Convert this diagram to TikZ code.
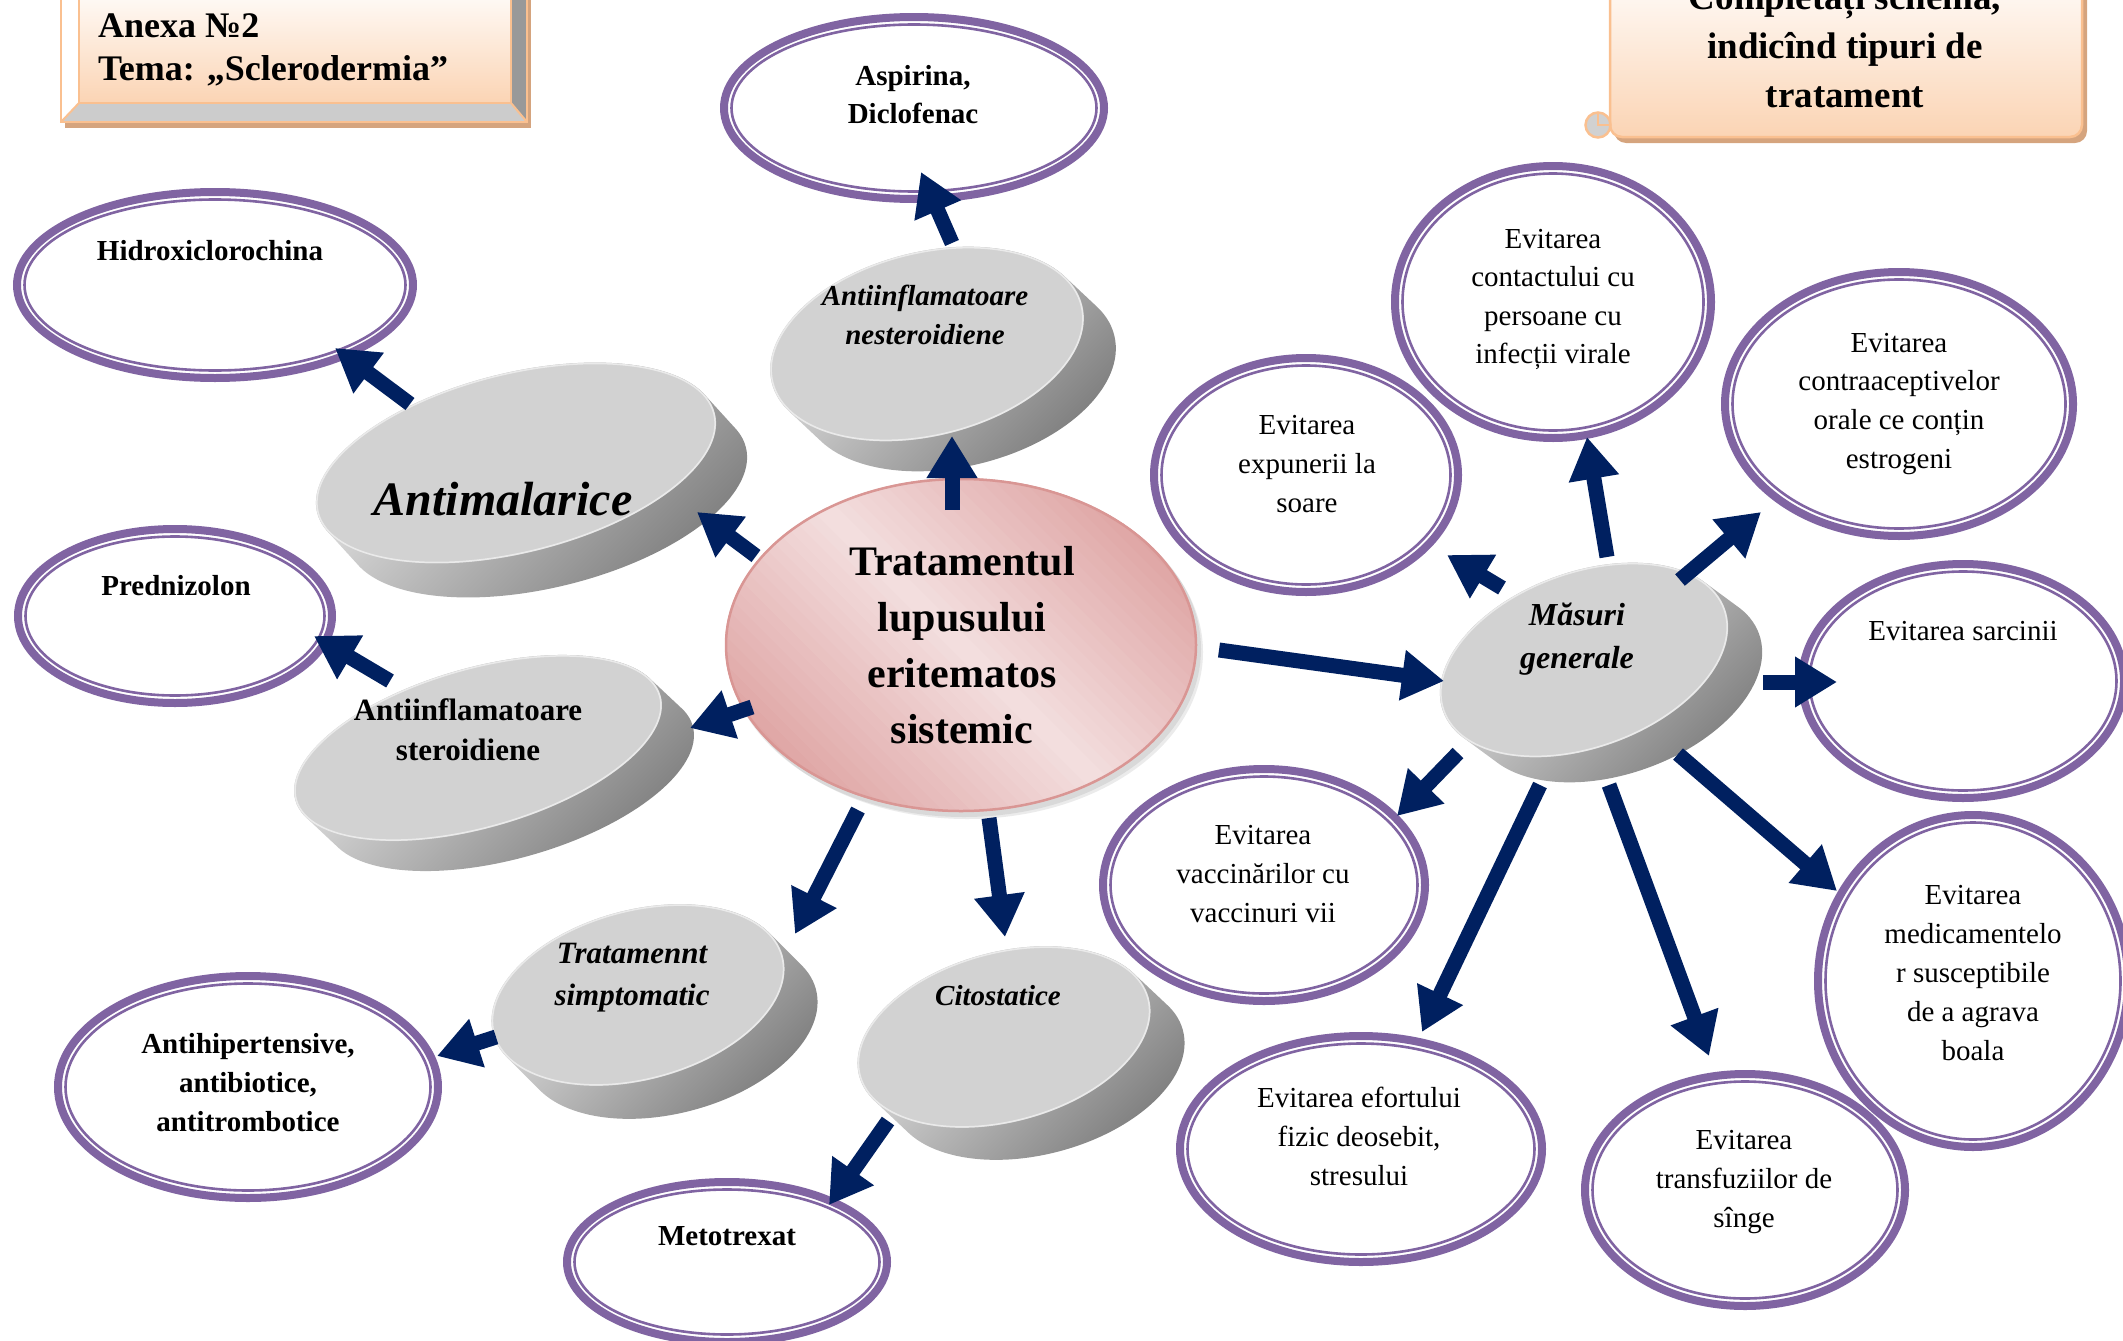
\documentclass[tikz,border=0pt]{standalone}
\usepackage{fontspec}
\setmainfont{Liberation Serif}
\usetikzlibrary{arrows.meta,calc}

\definecolor{navy}{HTML}{002060}
\definecolor{lilac}{HTML}{8064A2}
\definecolor{peach}{HTML}{FAC090}
\definecolor{peachface}{HTML}{FBD4B4}
\definecolor{tanshadow}{HTML}{D5A47E}
\definecolor{rosedark}{HTML}{DFA5A4}
\definecolor{roselight}{HTML}{F3DFDF}
\definecolor{roseline}{HTML}{D99694}
\definecolor{disktop}{HTML}{D2D2D2}

\newcommand\fs[2]{\fontsize{#1}{#2}\selectfont}

% white oval with a thick and a thin lilac rim
\newcommand\ringoval[5]{%
  \coordinate (#1) at (#2,-#3);
  \fill[white] (#1) ellipse [x radius=#4, y radius=#5];
  \draw[lilac, line width=8pt] (#1) ellipse [x radius=#4-4, y radius=#5-4];
  \draw[lilac, line width=2.6pt] (#1) ellipse [x radius=#4-11.5, y radius=#5-11.5];
}

% grey tablet: name, centre x, centre y (downwards), tilt, half axes, depth offset
\newcommand\pilldisk[8]{%
  \coordinate (#1) at (#2,-#3);
  \pgfmathsetmacro\pdlx{#7*cos(#4)-#8*sin(#4)}%
  \pgfmathsetmacro\pdly{-#7*sin(#4)-#8*cos(#4)}%
  \begin{scope}[shift={(#2,-#3)}, rotate=#4]
    \shade[disk side] (0,0) ellipse [x radius=#5, y radius=#6]
      \foreach \k in {1,...,28}{ ({\k/28*\pdlx}, {\k/28*\pdly}) ellipse [x radius=#5, y radius=#6] };
    \fill[disktop] (0,0) ellipse [x radius=#5, y radius=#6];
    \draw[white, opacity=.55, line width=1.5pt] (0,0) ellipse [x radius=#5-1, y radius=#6-1];
  \end{scope}
}

\begin{document}
\begin{tikzpicture}[x=1pt, y=1pt,
  lab/.style={inner sep=0pt, align=center},
  arrowstroke/.style={draw=navy, line width=15pt, -{Triangle[width=48pt,length=42pt]}},
  disk side/.style={top color=black!6, middle color=black!25, bottom color=black!52, shading angle=45},
]
\useasboundingbox (0,0) rectangle (2123,-1341);
\clip (0,0) rectangle (2123,-1341);

% ---------- lilac ovals ----------
\ringoval{asp}{914}{108}{194}{95}
\ringoval{hidro}{215}{285}{202}{97}
\ringoval{pred}{175}{616}{161}{91}
\ringoval{antih}{248}{1087}{194}{115}
\ringoval{meto}{727}{1262}{164}{84}
\ringoval{expun}{1306}{475}{156}{121}
\ringoval{contact}{1553}{302}{162}{140}
\ringoval{contra}{1899}{404}{178}{136}
\ringoval{sarc}{1963}{681}{165}{121}
\ringoval{medic}{1973}{981}{159}{170}
\ringoval{transf}{1745}{1190}{164}{120}
\ringoval{efort}{1361}{1149}{185}{117}
\ringoval{vacc}{1264}{885}{165}{120}

% ---------- grey tablets ----------
\pilldisk{antimal}{516}{463}{14}{205}{90}{31}{34}
\pilldisk{nest}{927}{344}{14}{160}{92}{32}{30}
\pilldisk{steroid}{478}{748}{16}{190}{80}{32}{30}
\pilldisk{simpt}{638}{995}{15}{150}{85}{33}{33}
\pilldisk{cito}{1004}{1037}{15}{150}{85}{34}{32}
\pilldisk{masuri}{1584}{660}{20}{150}{88}{34}{25}

% ---------- central oval ----------
\coordinate (core) at (961,-645);
\fill[black, opacity=.08] ($(core)+(6,-7)$) ellipse [x radius=236, y radius=167];
\fill[black, opacity=.08] ($(core)+(3,-4)$) ellipse [x radius=237, y radius=168];
\begin{scope}
  \clip (core) ellipse [x radius=236, y radius=167];
  % diagonal band: light through the middle, darker towards top right and bottom left
  \foreach \i in {-22,...,21}{
    \pgfmathtruncatemacro\mixv{min(100, abs(\i+0.5)*10/2.05)}
    \fill[rosedark!\mixv!roselight, rotate around={-45:(core)}]
      ($(core)+(-320,\i*10)$) rectangle ($(core)+(320,\i*10+10.8)$);
  }
\end{scope}
\draw[roseline, line width=2.5pt] (core) ellipse [x radius=235, y radius=166];

% ---------- bevelled title plate ----------
\fill[tanshadow] (65,20) rectangle (531,-128);
\fill[white] (61,20) -- (79,20) -- (79,-103) -- (61,-122) -- cycle;
\fill[gray!40] (61,-122) -- (79,-103) -- (511,-103) -- (527,-122) -- cycle;
\fill[gray!80] (527,-122) -- (511,-103) -- (511,20) -- (527,20) -- cycle;
\shade[top color=white, bottom color=peachface] (79,20) rectangle (511,-103);
\draw[peach, line width=2pt] (61,20) -- (61,-122) -- (527,-122) -- (527,20);
\draw[peach, line width=2pt] (79,20) -- (79,-103) -- (511,-103) -- (511,20);
\draw[peach, line width=2pt] (61,-122) -- (79,-103) (527,-122) -- (511,-103);

% ---------- scroll ----------
\fill[tanshadow, rounded corners=12pt] (1614,40) -- (1614,-143) -- (2087,-143) -- (2087,40) -- cycle;
\shadedraw[top color=white, bottom color=peachface, draw=peach, line width=2.5pt, rounded corners=12pt]
  (1610,40) -- (1610,-137) -- (2082,-137) -- (2082,40);
\filldraw[fill=black!18, draw=peach, line width=2.5pt] (1598,-125) circle (12.5);
\draw[peach, line width=2pt] (1598,-114) -- (1598,-125) -- (1610,-125);

% ---------- texts ----------
\node[lab, align=left, anchor=north west, font=\bfseries\fs{36}{43}] (annex) at (98,-6.9)
  {\strut Anexa №2\\Tema: „Sclerodermia”};
\node[lab, anchor=north, font=\bfseries\fs{37}{49}] (task) at (1845,25.3)
  {\strut Completați schema,\\indicînd tipuri de\\tratament};
\node[lab, anchor=north, font=\bfseries\fs{42}{56}] (coretext) at (962,-535.8)
  {\strut Tratamentul\\lupusului\\eritematos\\sistemic};

\node[lab, anchor=base, font=\bfseries\itshape\fs{48}{58}] (antimaltext) at (503,-515) {Antimalarice};
\node[lab, anchor=north, font=\bfseries\itshape\fs{29}{39}] (nesttext) at (925,-277.7)
  {\strut Antiinflamatoare\\nesteroidiene};
\node[lab, anchor=north, font=\bfseries\fs{31}{40}] (steroidtext) at (468,-692)
  {\strut Antiinflamatoare\\steroidiene};
\node[lab, anchor=north, font=\bfseries\itshape\fs{31}{42}] (simpttext) at (632,-933.6)
  {\strut Tratamennt\\simptomatic};
\node[lab, anchor=base, font=\bfseries\itshape\fs{29}{38}] (citotext) at (998,-1005) {Citostatice};
\node[lab, anchor=north, font=\bfseries\itshape\fs{32}{43}] (masuritext) at (1577,-594.9)
  {\strut Măsuri\\generale};

\node[lab, anchor=north, font=\bfseries\fs{29}{38}] (asptext) at (913,-58.4) {\strut Aspirina,\\Diclofenac};
\node[lab, anchor=base, font=\bfseries\fs{29}{38}] (hidrotext) at (210,-260) {Hidroxiclorochina};
\node[lab, anchor=base, font=\bfseries\fs{29}{38}] (predtext) at (176,-595) {Prednizolon};
\node[lab, anchor=north, font=\bfseries\fs{29}{39}] (antihtext) at (248,-1025.7)
  {\strut Antihipertensive,\\antibiotice,\\antitrombotice};
\node[lab, anchor=base, font=\bfseries\fs{29}{38}] (metotext) at (727,-1245) {Metotrexat};

\node[lab, anchor=north, font=\fs{29}{39}] (expuntext) at (1307,-406.7) {\strut Evitarea\\expunerii la\\soare};
\node[lab, anchor=north, font=\fs{29}{38.5}] (contacttext) at (1553,-221)
  {\strut Evitarea\\contactului cu\\persoane cu\\infecții virale};
\node[lab, anchor=north, font=\fs{29}{38.7}] (contratext) at (1899,-324.9)
  {\strut Evitarea\\contraaceptivelor\\orale ce conțin\\estrogeni};
\node[lab, anchor=base, font=\fs{29}{38}] (sarctext) at (1963,-640) {Evitarea sarcinii};
\node[lab, anchor=north, font=\fs{29}{39}] (medictext) at (1973,-876.7)
  {\strut Evitarea\\medicamentelo\\r susceptibile\\de a agrava\\boala};
\node[lab, anchor=north, font=\fs{29}{39}] (transftext) at (1744,-1121.7)
  {\strut Evitarea\\transfuziilor de\\sînge};
\node[lab, anchor=north, font=\fs{29}{39}] (eforttext) at (1359,-1079.7)
  {\strut Evitarea efortului\\fizic deosebit,\\stresului};
\node[lab, anchor=north, font=\fs{29}{39}] (vacctext) at (1263,-816.7)
  {\strut Evitarea\\vaccinărilor cu\\vaccinuri vii};

% ---------- arrows ----------
\foreach \n/\ax/\ay/\bx/\by in {
  corenest/952/510/952/436,
  coreantimal/756/556/697/512,
  coresteroid/752/707/690/728,
  coresimpt/858/810/795/934,
  corecito/989/818/1005/937,
  coremasuri/1219/650/1444/681,
  nestasp/952/243/921/172,
  antimalhidro/410/404/335/348,
  steroidpred/390/681/314/636,
  simptantih/496/1037/437/1056,
  citometo/888/1121/829/1205,
  masuriexpun/1502/588/1447/555,
  masuricontact/1607/557/1587/437,
  masuricontra/1680/580/1761/512,
  masurisarc/1763/682/1837/682,
  masurimedic/1678/754/1837/891,
  masuritransf/1609/785/1709/1056,
  masuriefort/1540/785/1422/1032,
  masurivacc/1458/753/1397/816}{
  \coordinate (\n-s) at (\ax,-\ay);
  \coordinate (\n-e) at (\bx,-\by);
  \draw[arrowstroke] (\n-s) -- (\n-e);
}
\end{tikzpicture}
\end{document}
